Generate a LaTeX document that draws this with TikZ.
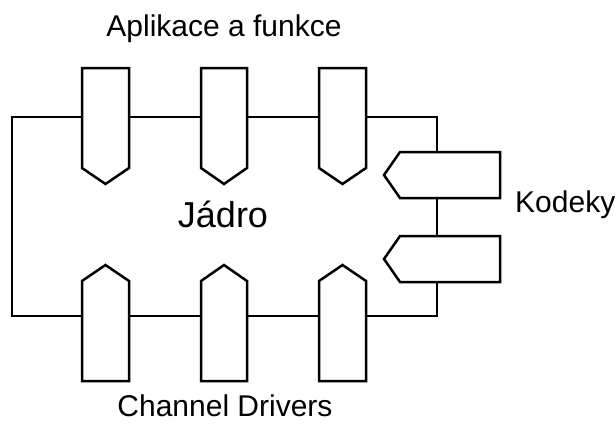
\documentclass[tikz,border=0pt]{standalone}
\usepackage{fontspec}
\setmainfont{Liberation Sans}
\begin{document}
\begin{tikzpicture}[x=1pt,y=-1pt,
  wire/.style={line width=2.5pt,line join=miter},
  plug/.style={draw,fill=white,line width=2.5pt,line join=miter},
  label/.style={anchor=base,inner sep=0pt,font=\fontsize{30}{36}\selectfont},
  core/.style={anchor=base,inner sep=0pt,font=\fontsize{36}{42}\selectfont}]
\useasboundingbox (0,0) rectangle (615,423);

% corners of the kernel bus
\coordinate (tl) at (12,117);
\coordinate (bl) at (12,316);
\coordinate (tr) at (437,117);
\coordinate (br) at (437,316);

% bus
\draw[wire] (tr) -- (tl) -- (bl) -- (br) -- cycle;

% application plugs (pointing down)
\foreach \xa/\xb in {82/129,201/247,319/366}{
  \draw[plug] (\xa,68) -- (\xb,68) -- (\xb,168) -- ({(\xa+\xb)/2},184) -- (\xa,168) -- cycle;
}

% driver plugs (pointing up)
\foreach \xa/\xb in {82/129,201/247,319/366}{
  \draw[plug] (\xa,381) -- (\xb,381) -- (\xb,281) -- ({(\xa+\xb)/2},265) -- (\xa,281) -- cycle;
}

% codec plugs (pointing left)
\foreach \ya/\yb in {152/198,236/282}{
  \draw[plug] (500,\ya) -- (400,\ya) -- (384,{(\ya+\yb)/2}) -- (400,\yb) -- (500,\yb) -- cycle;
}

% labels
\node[label] (apps) at (224,36) {Aplikace a funkce};
\node[label] (drivers) at (225,416) {Channel Drivers};
\node[label,anchor=base west] (codecs) at (515,212) {Kodeky};
\node[core] (kernel) at (223,227) {Jádro};
\end{tikzpicture}
\end{document}
